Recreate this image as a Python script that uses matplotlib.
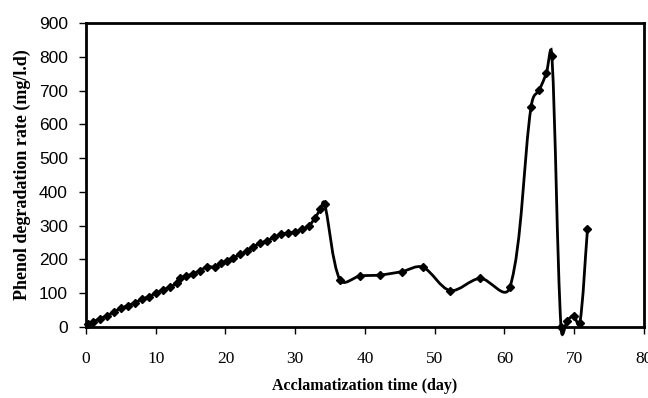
import numpy as np
import matplotlib
matplotlib.use('Agg')
import matplotlib.pyplot as plt
from matplotlib.path import Path
from matplotlib.patches import PathPatch

# acclimatization day and phenol degradation rate (mg/l.d)
days = [0.3, 1, 2, 3, 4, 5, 6, 7, 8, 9, 10, 11, 12, 13, 13.5, 14.4, 15.3, 16.3,
        17.3, 18.5, 19.3, 20.2, 21.1, 22.1, 23.1, 24.0, 25.0, 26.0, 27.0, 28.0,
        29.0, 30.0, 31.0, 32.0, 32.8, 33.6, 34.2,
        36.4, 39.3, 42.2, 45.3, 48.3, 52.2, 56.5, 60.8,
        63.8, 65.0, 66.0, 66.8, 68.1, 69.0, 69.9, 70.8, 71.9]
rate = [8, 15, 25, 33, 45, 55, 63, 72, 82, 90, 100, 110, 118, 130, 145, 150, 158, 166,
        178, 178, 188, 196, 205, 215, 226, 238, 248, 256, 266, 275,
        278, 282, 290, 300, 322, 348, 365,
        140, 151, 154, 164, 177, 108, 144, 119,
        650, 702, 751, 802, 0, 19, 33, 11, 289]

fig = plt.figure(figsize=(6.48, 3.98), dpi=100)
ax = fig.add_axes([0.1327, 0.1784, 0.8611, 0.7638])
ax.set_xlim(0, 80)
ax.set_ylim(0, 900)

# smooth line: bezier segments (mix of plain catmull-rom and length weighted tangents)
x = np.array(days, dtype=float)
y = np.array(rate, dtype=float)
sx, sy = 6.975, 0.3378
P = np.column_stack([x * sx, y * sy])
n = len(P)
d = np.hypot(*np.diff(P, axis=0).T)
w = 0.4


def tangent(j, seg, other):
    # tangent at point j, scaled for segment `seg`
    a = (P[j + 1] - P[j - 1]) / 6.0
    b = (P[j + 1] - P[j - 1]) * d[seg] / (d[seg] + d[other]) / 3.0
    return w * a + (1 - w) * b


verts = [(x[0], y[0])]
codes = [Path.MOVETO]
for i in range(n - 1):
    p1, p2 = P[i], P[i + 1]
    t1 = tangent(i, i, i - 1) if i > 0 else (p2 - p1) / 3.0
    t2 = tangent(i + 1, i, i + 1) if i < n - 2 else (p2 - p1) / 3.0
    for c in (p1 + t1, p2 - t2, p2):
        verts.append((c[0] / sx, c[1] / sy))
    codes += [Path.CURVE4] * 3
ax.add_patch(PathPatch(Path(verts, codes), facecolor='none', edgecolor='black', lw=2.0, clip_on=False))
ax.plot(days, rate, linestyle='none', marker='D', color='black', markersize=4.5, clip_on=False)

ax.set_xticks(range(0, 81, 10))
ax.set_yticks(range(0, 901, 100))
for s in ax.spines.values():
    s.set_linewidth(2)
ax.tick_params(direction='out', length=5, width=1)
ax.tick_params(axis='x', pad=12)
ax.tick_params(axis='y', pad=8)
for lab in ax.get_xticklabels():
    lab.set_fontfamily('Liberation Serif')
    lab.set_fontsize(12.5)
for lab in ax.get_yticklabels():
    lab.set_fontfamily('Liberation Sans')
    lab.set_fontsize(12.5)
ax.set_xlabel('Acclamatization time (day)', fontfamily='Liberation Serif', fontweight='bold', fontsize=11.5, labelpad=8)
ax.set_ylabel('Phenol degradation rate (mg/l.d)', fontfamily='Liberation Serif', fontweight='bold', fontsize=13, labelpad=6)

plt.savefig('out.png', dpi=100)
